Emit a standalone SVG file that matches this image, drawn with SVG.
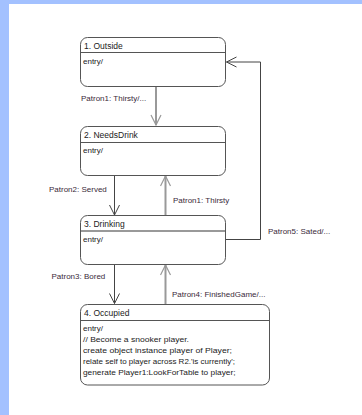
<svg xmlns="http://www.w3.org/2000/svg" width="362" height="415" viewBox="0 0 362 415">
  <style>
    .frame { fill: #ffffff; stroke: #555555; stroke-width: 1; }
    .sep { stroke: #555555; stroke-width: 1; }
    .sep-hi { stroke: #999999; stroke-width: 2; }
    .title { font-family: "Liberation Sans", Arial, sans-serif; font-size: 8.5px; fill: #222222; }
    .body { font-family: "Liberation Sans", Arial, sans-serif; font-size: 8px; fill: #222222; }
    .label { font-family: "Liberation Sans", Arial, sans-serif; font-size: 8px; fill: #3a2a3a; }
    .edge { fill: none; stroke: #444444; stroke-width: 1; }
    .edge-hi { fill: none; stroke: #999999; stroke-width: 2; }
  </style>
  <defs>
    <marker id="open" viewBox="0 0 12 12" refX="11" refY="6" markerWidth="12" markerHeight="12" markerUnits="userSpaceOnUse" orient="auto">
      <path d="M1,1 L11,6 L1,11" fill="none" stroke="#444444" stroke-width="1"/>
    </marker>
    <marker id="open-hi" viewBox="0 0 12 12" refX="11" refY="6" markerWidth="12" markerHeight="12" markerUnits="userSpaceOnUse" orient="auto">
      <path d="M1,1 L11,6 L1,11" fill="none" stroke="#999999" stroke-width="1.2"/>
    </marker>
  </defs>

  <!-- canvas -->
  <rect x="0" y="0" width="362" height="415" fill="#a3c1ff"/>
  <rect x="9" y="4" width="353" height="411" fill="#ffffff"/>

  <!-- transitions -->
  <g id="connectors">
    <path class="edge-hi" d="M156,87 V125" marker-end="url(#open-hi)"/>
    <path class="edge" d="M114.5,175 V215" marker-end="url(#open)"/>
    <path class="edge-hi" d="M165.5,216 V176" marker-end="url(#open-hi)"/>
    <path class="edge" d="M226,239.5 H260.5 V62 H226.5" marker-end="url(#open)"/>
    <path class="edge" d="M114.5,264 V303.5" marker-end="url(#open)"/>
    <path class="edge-hi" d="M165.5,304.5 V265" marker-end="url(#open-hi)"/>
    <text class="label" x="81" y="101">Patron1: Thirsty/...</text>
    <text class="label" x="49" y="191.5">Patron2: Served</text>
    <text class="label" x="173" y="203">Patron1: Thirsty</text>
    <text class="label" x="268" y="234">Patron5: Sated/...</text>
    <text class="label" x="51.5" y="278.5">Patron3: Bored</text>
    <text class="label" x="172" y="297">Patron4: FinishedGame/...</text>
  </g>

  <!-- states -->
  <g id="outside">
    <rect class="frame" x="80.5" y="37.5" width="145" height="49" rx="7"/>
    <line class="sep" x1="80.5" y1="52.5" x2="225.5" y2="52.5"/>
    <text class="title" x="84" y="48.5">1. Outside</text>
    <text class="body" x="83" y="64">entry/</text>
  </g>

  <g id="needs-drink">
    <rect class="frame" x="80.5" y="126.5" width="145" height="49" rx="7"/>
    <line class="sep" x1="80.5" y1="142.5" x2="225.5" y2="142.5"/>
    <text class="title" x="84" y="137.5">2. NeedsDrink</text>
    <text class="body" x="83" y="153">entry/</text>
  </g>

  <g id="drinking">
    <rect class="frame" x="80.5" y="215.5" width="145" height="49" rx="7"/>
    <line class="sep-hi" x1="81" y1="231" x2="225" y2="231"/>
    <text class="title" x="84" y="227">3. Drinking</text>
    <text class="body" x="83" y="242">entry/</text>
  </g>

  <g id="occupied">
    <rect class="frame" x="80.5" y="304.5" width="189" height="80.5" rx="7"/>
    <line class="sep" x1="80.5" y1="320.5" x2="269.5" y2="320.5"/>
    <text class="title" x="84" y="316">4. Occupied</text>
    <text class="body" x="83" y="330.5">entry/</text>
    <text class="body" x="83" y="341.5" textLength="106" lengthAdjust="spacingAndGlyphs">// Become a snooker player.</text>
    <text class="body" x="83" y="352.5" textLength="149" lengthAdjust="spacingAndGlyphs">create object instance player of Player;</text>
    <text class="body" x="83" y="363.5" textLength="152" lengthAdjust="spacingAndGlyphs">relate self to player across R2.'is currently';</text>
    <text class="body" x="83" y="374.5" textLength="152.5" lengthAdjust="spacingAndGlyphs">generate Player1:LookForTable to player;</text>
  </g>
</svg>
